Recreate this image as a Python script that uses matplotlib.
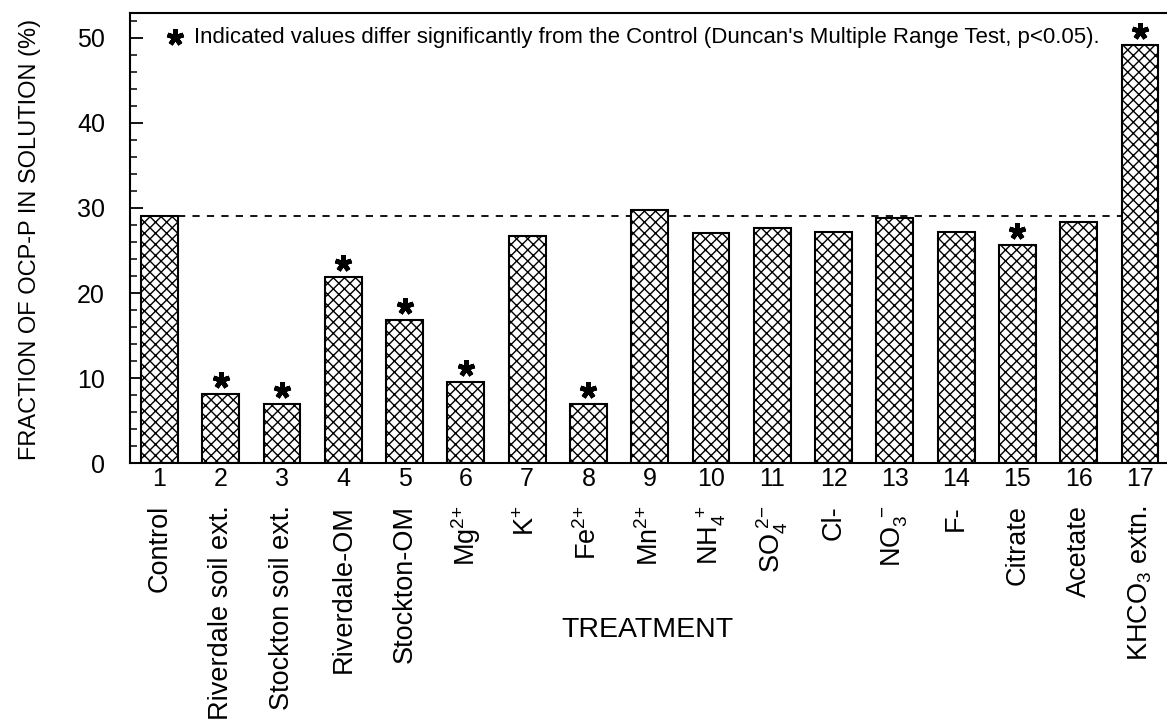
import numpy as np
import matplotlib
matplotlib.use('Agg')
import matplotlib.pyplot as plt
import matplotlib.ticker as ticker
import matplotlib.transforms as mtrans

plt.rcParams['font.family'] = ['Liberation Sans', 'DejaVu Sans']
plt.rcParams['mathtext.fontset'] = 'custom'
plt.rcParams['mathtext.rm'] = 'Liberation Sans'
plt.rcParams['mathtext.it'] = 'Liberation Sans'
plt.rcParams['mathtext.bf'] = 'Liberation Sans:bold'
plt.rcParams['hatch.linewidth'] = 1.0

# data
treatments = ['Control', 'Riverdale soil ext.', 'Stockton soil ext.', 'Riverdale-OM',
              'Stockton-OM', r'Mg$^{2{+}}$', r'K$^{+}$', r'Fe$^{2{+}}$', r'Mn$^{2{+}}$',
              r'NH$_4^{\ +}$', r'SO$_4^{\ 2{-}}$', 'Cl-', r'NO$_3^{\ -}$', 'F-',
              'Citrate', 'Acetate', r'KHCO$_3$ extn.']
numbers = np.arange(1, 18)
fraction = [29.0, 8.1, 7.0, 21.9, 16.8, 9.6, 26.7, 7.0, 29.7, 27.1,
            27.6, 27.2, 28.8, 27.2, 25.7, 28.4, 49.1]
significant = [2, 3, 4, 5, 6, 8, 15, 17]
note = "Indicated values differ significantly from the Control (Duncan's Multiple Range Test, p<0.05)."

bar_w = 0.6

fig = plt.figure(figsize=(11.67, 7.21), dpi=100)
ax = fig.add_axes([0.1114, 0.3574, 0.8886, 0.6246])

ax.bar(numbers, fraction, width=bar_w, facecolor='white', edgecolor='black',
       linewidth=1.5, hatch='xxx', zorder=2)

# control reference line
ax.hlines(fraction[0], numbers[0] + bar_w / 2, numbers[-1] - bar_w / 2,
          colors='black', linestyles=(0, (4, 4)), linewidth=1.3, zorder=1)

# significance stars
sig_x = [n for n in significant]
sig_y = [fraction[n - 1] for n in significant]
shift = ax.transData + mtrans.ScaledTranslation(0, 0.14, fig.dpi_scale_trans)
ax.plot(sig_x, sig_y, ls='none', marker=(5, 2, 0), ms=12, mew=3.4,
        color='black', transform=shift, clip_on=False)

# note at the top
ax.plot([0.043], [0.946], marker=(5, 2, 0), ms=12, mew=3.4, color='black',
        transform=ax.transAxes, clip_on=False)
ax.text(0.062, 0.946, note, transform=ax.transAxes, fontsize=16,
        va='center', ha='left')

ax.set_xlim(0.52, 17.44)
ax.set_ylim(0, 52.9)
ax.set_xticks(numbers)
ax.set_xticklabels([str(n) for n in numbers], fontsize=18)
ax.tick_params(axis='x', length=0, pad=3)
ax.yaxis.set_major_locator(ticker.MultipleLocator(10))
ax.yaxis.set_minor_locator(ticker.MultipleLocator(2))
ax.tick_params(axis='y', which='major', direction='in', length=9, width=1.3,
               labelsize=18, pad=18)
ax.tick_params(axis='y', which='minor', direction='in', length=5, width=1.1)

for s in ['left', 'top', 'bottom']:
    ax.spines[s].set_linewidth(1.5)
ax.spines['right'].set_visible(False)

# treatment names under the numbers
lab_trans = mtrans.blended_transform_factory(ax.transData, ax.transAxes)
for n, name in zip(numbers, treatments):
    ax.text(n, -0.093, name, transform=lab_trans, rotation=90, ha='center',
            va='top', fontsize=19.5)

fig.text(0.555, 0.126, 'TREATMENT', ha='center', va='center', fontsize=20.5)
fig.text(0.026, 0.668, 'FRACTION OF OCP-P IN SOLUTION (%)', rotation=90,
         ha='center', va='center', fontsize=17)

plt.savefig('out.png', dpi=100)
